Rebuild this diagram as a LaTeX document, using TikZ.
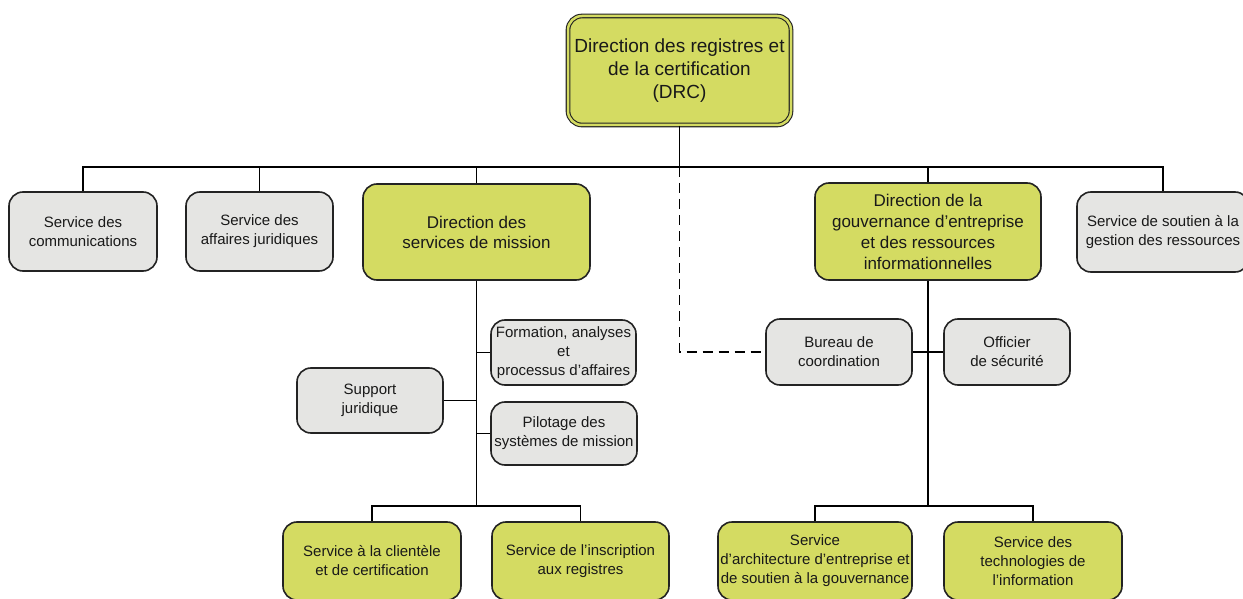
\documentclass[tikz,border=0pt]{standalone}
\usepackage{fontspec}
\setmainfont{Liberation Sans}
\definecolor{boxgreen}{RGB}{212,219,98}
\definecolor{boxgrey}{RGB}{229,229,227}
\definecolor{edge}{RGB}{35,35,35}

\begin{document}
\begin{tikzpicture}[x=1pt,y=-1pt,
  box/.style={draw=edge,line width=1.6pt,rounded corners=14pt,align=center,
    inner sep=0pt,text=black!90,font=\fontsize{15}{19}\selectfont},
  greybox/.style={box,fill=boxgrey},
  greenbox/.style={box,fill=boxgreen},
  link/.style={line width=1.8pt,draw=black}]
\useasboundingbox (0,0) rectangle (1243,599);
\clip (0,0) rectangle (1243,599);

% top
\node[greenbox,double=boxgreen,double distance=2.5pt,line width=1.1pt,
  minimum width=223pt,minimum height=109pt,
  font=\fontsize{19}{23}\selectfont] (drc) at (679.5,70.5)
  {Direction des registres et\\de la certification\\(DRC)};

% first level
\node[greybox,minimum width=148pt,minimum height=79pt] (comm) at (83,231.5)
  {Service des\\communications};
\node[greybox,minimum width=147pt,minimum height=79pt] (jur) at (259.5,231.5)
  {Service des\\affaires juridiques};
\node[greenbox,minimum width=227pt,minimum height=96pt,
  font=\fontsize{17}{20}\selectfont] (dsm) at (476.5,232)
  {Direction des\\services de mission};
\node[greenbox,minimum width=226pt,minimum height=97pt,
  font=\fontsize{17}{21}\selectfont] (dgr) at (928,231.5)
  {Direction de la\\gouvernance d’entreprise\\et des ressources\\informationnelles};
\node[greybox,minimum width=172pt,minimum height=80pt] (soutien) at (1163,232)
  {Service de soutien à la\\gestion des ressources};

% mission
\node[greybox,minimum width=145pt,minimum height=65pt] (form) at (563.5,352.5)
  {Formation, analyses\\et\\processus d’affaires};
\node[greybox,minimum width=146pt,minimum height=65pt] (supp) at (370,400.5)
  {Support\\juridique};
\node[greybox,minimum width=146pt,minimum height=63pt] (pilot) at (564,433.5)
  {Pilotage des\\systèmes de mission};
\node[greenbox,minimum width=178pt,minimum height=78pt] (clien) at (372,561)
  {Service à la clientèle\\et de certification};
\node[greenbox,minimum width=177pt,minimum height=78pt] (inscr) at (580.5,561)
  {Service de l’inscription\\aux registres};

% gouvernance
\node[greybox,minimum width=146pt,minimum height=66pt] (bureau) at (839,352)
  {Bureau de\\coordination};
\node[greybox,minimum width=126pt,minimum height=66pt] (offic) at (1007,352)
  {Officier\\de sécurité};
\node[greenbox,minimum width=194pt,minimum height=78pt] (archi) at (815,561)
  {Service\\d’architecture d’entreprise et\\de soutien à la gouvernance};
\node[greenbox,minimum width=178pt,minimum height=78pt] (techno) at (1033,561)
  {Service des\\technologies de\\l’information};

\coordinate (bus) at (679.5,167);
\coordinate (msub) at (476.5,506);
\coordinate (gsub) at (928,506);

% lines
\draw[link] (drc) -- (bus);
\draw[link] (comm) |- (bus) -| (soutien);
\draw[link] (jur) -- (jur |- bus);
\draw[link] (dsm) -- (dsm |- bus);
\draw[link] (dgr) -- (dgr |- bus);
\draw[link,dash pattern=on 10pt off 6pt,line width=1.4pt] (bus) |- (bureau);

\draw[link] (dsm) -- (msub);
\draw[link] (clien) |- (msub) -| (inscr);
\draw[link] (form) -- (form -| dsm);
\draw[link] (supp) -- (supp -| dsm);
\draw[link] (pilot) -- (pilot -| dsm);

\draw[link] (dgr) -- (gsub);
\draw[link] (archi) |- (gsub) -| (techno);
\draw[link] (bureau) -- (offic);
\end{tikzpicture}
\end{document}
